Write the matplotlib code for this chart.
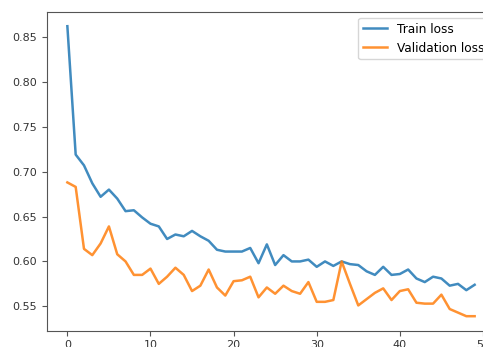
import matplotlib
matplotlib.use("Agg")
from matplotlib import pyplot as plt

epochs = list(range(50))

train_loss = [0.862, 0.719, 0.707, 0.687, 0.672, 0.680, 0.670, 0.656, 0.657, 0.649,
              0.642, 0.639, 0.625, 0.630, 0.628, 0.634, 0.628, 0.623, 0.613, 0.611,
              0.611, 0.611, 0.615, 0.598, 0.619, 0.596, 0.607, 0.600, 0.600, 0.602,
              0.594, 0.600, 0.595, 0.600, 0.597, 0.596, 0.589, 0.585, 0.594, 0.585,
              0.586, 0.591, 0.581, 0.577, 0.583, 0.581, 0.573, 0.575, 0.568, 0.574]

val_loss = [0.688, 0.683, 0.614, 0.607, 0.620, 0.639, 0.608, 0.600, 0.585, 0.585,
            0.592, 0.575, 0.583, 0.593, 0.585, 0.567, 0.573, 0.591, 0.571, 0.562,
            0.578, 0.579, 0.583, 0.560, 0.571, 0.564, 0.573, 0.567, 0.564, 0.577,
            0.555, 0.555, 0.557, 0.600, 0.575, 0.551, 0.558, 0.565, 0.570, 0.557,
            0.567, 0.569, 0.554, 0.553, 0.553, 0.563, 0.547, 0.543, 0.539, 0.539]

plt.rcParams['font.size'] = 8

W, H = 483, 347
fig = plt.figure(figsize=(W / 100, H / 100), dpi=100)
# axes runs past the right edge, the original screenshot was cropped
ax = fig.add_axes([47 / W, (H - 330.7) / H, (495 - 47) / W, (330.7 - 11.7) / H])

ax.plot(epochs, train_loss, label='Train loss', lw=1.8, alpha=0.85)
ax.plot(epochs, val_loss, label='Validation loss', lw=1.8, alpha=0.85)
ax.set_yticks([0.55, 0.60, 0.65, 0.70, 0.75, 0.80, 0.85])
ax.set_xticks([0, 10, 20, 30, 40, 50])
for s in ax.spines.values():
    s.set_color('#555555')
ax.tick_params(colors='#555555', labelcolor='#333333')
ax.legend(loc='upper right', fontsize=8.7)

fig.savefig("out.png", dpi=100)
